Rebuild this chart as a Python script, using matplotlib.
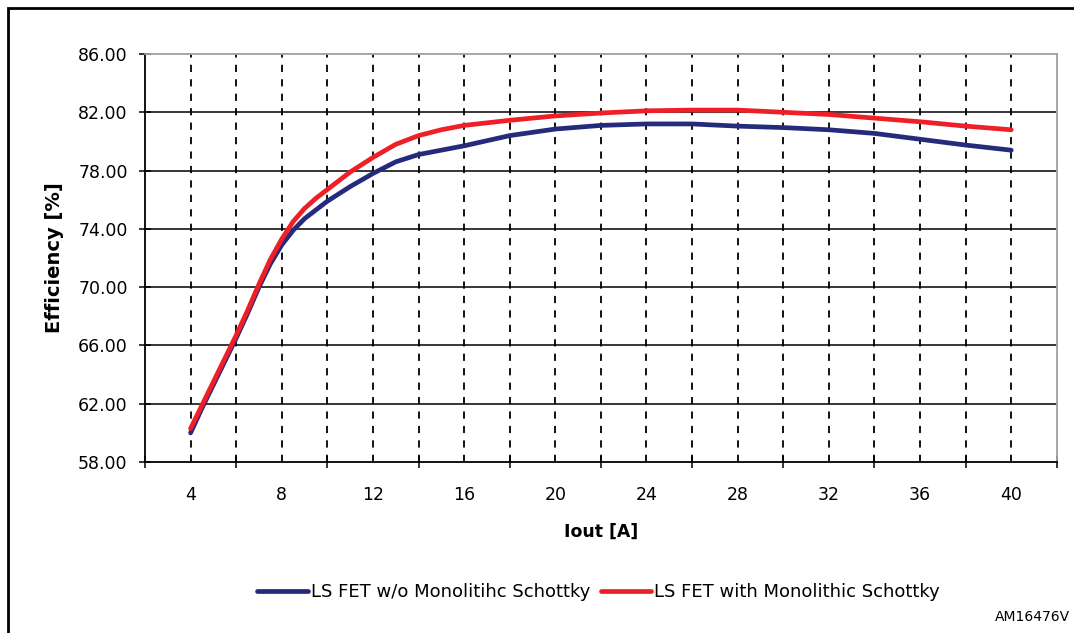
import matplotlib
matplotlib.use("Agg")
import matplotlib.pyplot as plt
from matplotlib.patches import Rectangle
from matplotlib.ticker import FixedLocator, NullFormatter

plt.rcParams['font.family'] = ['DejaVu Sans']

# Output current [A]
iout = [4, 4.5, 5, 5.5, 6, 6.5, 7, 7.5, 8, 8.5, 9, 9.5, 10, 10.5, 11, 12, 13,
        14, 15, 16, 18, 20, 22, 24, 26, 28, 30, 32, 34, 36, 38, 40]
# Efficiency [%] without the monolithic Schottky diode
eff_without = [60.0, 61.7, 63.3, 64.9, 66.5, 68.2, 70.0, 71.6, 72.9, 73.9,
               74.7, 75.3, 75.9, 76.4, 76.9, 77.8, 78.6, 79.1, 79.4, 79.7,
               80.4, 80.85, 81.1, 81.2, 81.2, 81.05, 80.95, 80.8, 80.55, 80.15,
               79.75, 79.4]
# Efficiency [%] with the monolithic Schottky diode
eff_with = [60.3, 61.9, 63.5, 65.1, 66.7, 68.4, 70.2, 71.9, 73.3, 74.5,
            75.4, 76.1, 76.7, 77.3, 77.9, 78.9, 79.8, 80.4, 80.8, 81.1,
            81.45, 81.75, 81.95, 82.1, 82.15, 82.15, 82.0, 81.85, 81.6, 81.35,
            81.05, 80.8]

series_labels = ["LS FET w/o Monolitihc Schottky", "LS FET with Monolithic Schottky"]
x_tick_labels = [4, 8, 12, 16, 20, 24, 28, 32, 36, 40]
y_ticks = [58, 62, 66, 70, 74, 78, 82, 86]

BLUE = "#262a7c"
RED = "#ee1f26"

fig = plt.figure(figsize=(10.74, 6.33), dpi=100)
ax = fig.add_axes([0.135, 0.2701, 0.984 - 0.135, 0.9147 - 0.2701])

ax.set_xlim(2, 42)
ax.set_ylim(58, 86)

# Dashed vertical grid at each data category
for xv in range(4, 41, 2):
    ax.axvline(xv, color="black", lw=1.3, ls=(0, (4, 4)), zorder=1)

# Solid horizontal grid
for yv in y_ticks[1:-1]:
    ax.axhline(yv, color="black", lw=1.1, zorder=1)

ax.plot(iout, eff_without, color=BLUE, lw=3.4, label=series_labels[0],
        solid_capstyle="round", solid_joinstyle="round", zorder=3)
ax.plot(iout, eff_with, color=RED, lw=3.4, label=series_labels[1],
        solid_capstyle="round", solid_joinstyle="round", zorder=4)

# Category boundary tick marks vs. label positions on x
ax.xaxis.set_major_locator(FixedLocator(x_tick_labels))
ax.set_xticklabels([str(v) for v in x_tick_labels])
ax.xaxis.set_minor_locator(FixedLocator(list(range(2, 43, 4))))
ax.xaxis.set_minor_formatter(NullFormatter())
ax.tick_params(axis="x", which="major", length=0, pad=17, labelsize=12.5)
ax.tick_params(axis="x", which="minor", direction="inout", length=8,
               width=1.1, color="black")

ax.set_yticks(y_ticks)
ax.set_yticklabels([f"{v:.2f}" for v in y_ticks])
ax.tick_params(axis="y", direction="inout", length=9, width=1.1,
               labelsize=12.5, pad=8)

for side in ("left", "bottom"):
    ax.spines[side].set_color("black")
    ax.spines[side].set_linewidth(1.3)
for side in ("top", "right"):
    ax.spines[side].set_color("#a0a0a0")
    ax.spines[side].set_linewidth(1.3)

ax.set_xlabel("Iout [A]", fontsize=12.5, fontweight="bold", labelpad=14)
ax.set_ylabel("Efficiency [%]", fontsize=14, fontweight="bold", labelpad=10)

leg = fig.legend(loc="center", bbox_to_anchor=(0.5573, 1 - 592 / 633), ncol=2,
                 frameon=False, fontsize=13, handlelength=2.8,
                 handletextpad=0.15, columnspacing=0.6)

fig.text(1070 / 1074, 1 - 617 / 633, "AM16476V", ha="right", va="center",
         fontsize=10)

# Outer figure frame
fig.patches.append(Rectangle((8 / 1074, -0.1), 1.2, 1.1 - 8 / 633,
                             transform=fig.transFigure, fill=False,
                             edgecolor="black", lw=2.0))

fig.savefig("out.png", dpi=100)
